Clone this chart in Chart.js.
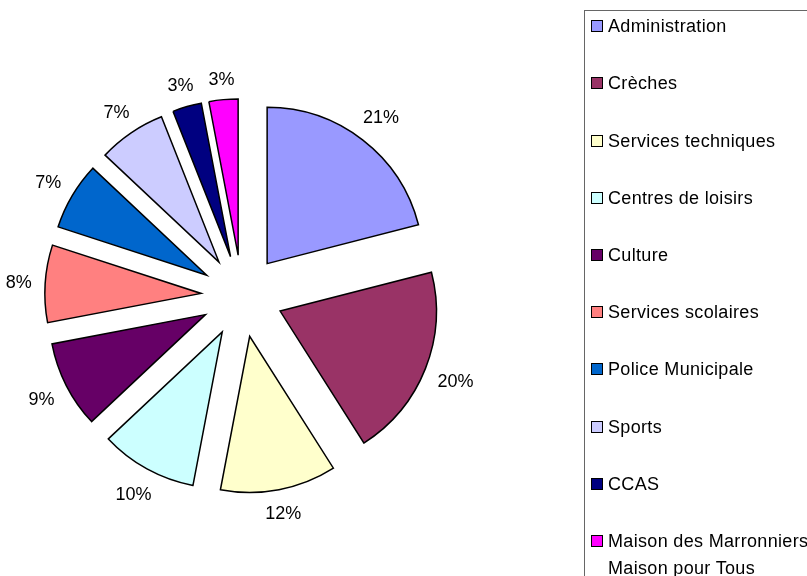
<!DOCTYPE html>
<html>
<head>
<meta charset="utf-8">
<script src="https://cdn.jsdelivr.net/npm/chart.js@4/dist/chart.umd.min.js"></script>
<style>
  html, body { margin: 0; padding: 0; background: #fff; }
  #wrap { position: relative; width: 807px; height: 576px; overflow: hidden; font-family: "Liberation Sans", Arial, sans-serif; }
  #c { position: absolute; left: 0; top: 0; }
  #legend { position: absolute; left: 584px; top: 10px; width: 320px; height: 700px; border: 1px solid #666; box-sizing: border-box; }
  .item { position: absolute; left: 0; white-space: nowrap; font-size: 18px; line-height: 27px; color: #000; letter-spacing: 0.33px; }
  .box { position: absolute; left: 6px; top: 7px; width: 12px; height: 12px; box-sizing: border-box; border: 1px solid #000; }
  .txt { position: absolute; left: 23px; top: 0; }
</style>
</head>
<body>
<div id="wrap">
  <canvas id="c" width="807" height="576"></canvas>
  <div id="legend"></div>
</div>
<script>
const categories = [
  "Administration",
  "Crèches",
  "Services techniques",
  "Centres de loisirs",
  "Culture",
  "Services scolaires",
  "Police Municipale",
  "Sports",
  "CCAS",
  ["Maison des Marronniers", "Maison pour Tous"]
];
const shares = [21, 20, 12, 10, 9, 8, 7, 7, 3, 3];
const colors = ["#9999FF", "#993366", "#FFFFCC", "#CCFFFF", "#660066",
                "#FF8080", "#0066CC", "#CCCCFF", "#000080", "#FF00FF"];

const EXPLODE = 41;
const LABEL_GAP = 13;
const FONT = '18px "Liberation Sans", Arial, sans-serif';

// HTML legend built from the arrays
const legend = document.getElementById('legend');
categories.forEach((lab, i) => {
  const it = document.createElement('div');
  it.className = 'item';
  it.style.top = (26.5 + i * 57.2 - 13.3 - 11) + 'px';
  const b = document.createElement('div');
  b.className = 'box';
  b.style.background = colors[i];
  const t = document.createElement('div');
  t.className = 'txt';
  t.innerHTML = Array.isArray(lab) ? lab.join('<br>') : lab;
  it.appendChild(b); it.appendChild(t);
  legend.appendChild(it);
});

const explodePlugin = {
  id: 'explode',
  beforeDatasetDraw(chart, args) {
    const ctx = chart.ctx;
    args.meta.data.forEach(arc => {
      const mid = (arc.startAngle + arc.endAngle) / 2;
      ctx.save();
      ctx.translate(Math.cos(mid) * EXPLODE, Math.sin(mid) * EXPLODE);
      arc.draw(ctx);
      ctx.restore();
    });
    return false;
  },
  afterDatasetsDraw(chart) {
    const ctx = chart.ctx;
    const meta = chart.getDatasetMeta(0);
    const data = chart.data.datasets[0].data;
    const total = data.reduce((a, b) => a + b, 0);
    ctx.save();
    ctx.font = FONT;
    ctx.fillStyle = '#000';
    ctx.textAlign = 'center';
    ctx.textBaseline = 'alphabetic';
    meta.data.forEach((arc, i) => {
      const mid = (arc.startAngle + arc.endAngle) / 2;
      const c = Math.cos(mid), s = Math.sin(mid);
      const txt = Math.round(data[i] / total * 100) + '%';
      const w = ctx.measureText(txt).width;
      const h = 14;
      const ext = Math.abs(c) * w / 2 + Math.abs(s) * h / 2;
      const d = EXPLODE + arc.outerRadius + LABEL_GAP + ext;
      const tx = arc.x + c * d;
      const ty = arc.y + s * d;
      ctx.fillText(txt, tx, ty + 6.5);
    });
    ctx.restore();
  }
};

new Chart(document.getElementById('c'), {
  type: 'pie',
  data: {
    labels: categories,
    datasets: [{
      data: shares,
      backgroundColor: colors,
      borderColor: '#000',
      borderWidth: 1.5,
      borderJoinStyle: 'miter',
      hoverOffset: 0,
      clip: false
    }]
  },
  options: {
    responsive: false,
    animation: false,
    devicePixelRatio: 1,
    events: [],
    layout: { padding: { left: 85, top: 139, right: 408, bottom: 123 } },
    plugins: {
      legend: { display: false },
      tooltip: { enabled: false }
    }
  },
  plugins: [explodePlugin]
});
</script>
</body>
</html>
